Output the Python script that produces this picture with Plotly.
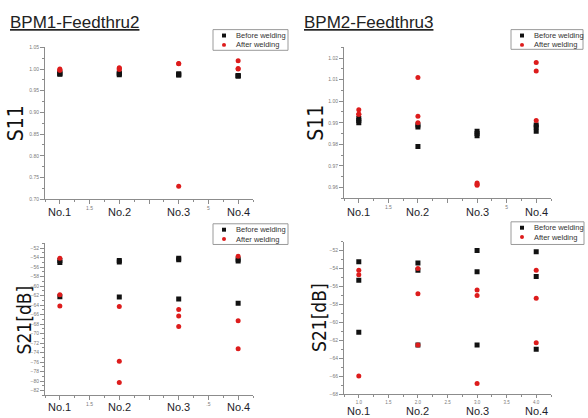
import plotly.graph_objects as go

W, H = 588, 418

samples = ["No.1", "No.2", "No.3", "No.4"]
series_names = ["Before welding", "After welding"]

# BPM1-Feedthru2, S11 (three readings per sample)
bpm1_s11_before = [[0.991, 0.989, 0.988], [0.991, 0.989, 0.987], [0.989, 0.987, 0.986], [0.985, 0.984, 0.984]]
bpm1_s11_after = [[1.000, 0.998, 0.997], [1.003, 1.001, 0.999], [1.013, 1.012, 0.730], [1.019, 1.001, 1.000]]
# BPM2-Feedthru3, S11
bpm2_s11_before = [[0.992, 0.991, 0.990], [0.989, 0.988, 0.979], [0.986, 0.985, 0.984], [0.989, 0.988, 0.986]]
bpm2_s11_after = [[0.996, 0.994, 0.994], [1.011, 0.993, 0.990], [0.962, 0.961, 0.9615], [1.018, 1.014, 0.991]]
# BPM1-Feedthru2, S21 [dB]
bpm1_s21_before = [[-54.6, -55.0, -62.2], [-54.6, -54.9, -62.3], [-54.1, -54.4, -62.7], [-54.3, -54.7, -63.6]]
bpm1_s21_after = [[-54.1, -61.8, -64.2], [-64.3, -75.8, -80.3], [-64.9, -66.3, -68.5], [-53.7, -67.3, -73.2]]
# BPM2-Feedthru3, S21 [dB]
bpm2_s21_before = [[-53.25, -55.3, -61.1], [-53.4, -54.2, -62.5], [-52.0, -54.35, -62.5], [-52.15, -54.9, -63.0]]
bpm2_s21_after = [[-54.2, -54.7, -65.95], [-54.0, -56.8, -62.5], [-56.4, -57.0, -66.8], [-54.2, -57.3, -62.25]]

half_labels_a = ["", "1.5", "", "", "", "5", ""]
half_labels_b = ["", "1.5", "", "", "", ".5", ""]
half_labels_c = ["1.0", "1.5", "2.0", "2.5", "3.0", "3.5", "4.0"]
tick_positions = [1, 1.5, 2, 2.5, 3, 3.5, 4]


def X(px):
    return px / W


def Y(px):
    return 1 - px / H


BLACK = "#111111"
RED = "#dd1c1c"
GREY = "#8c8c8c"
LBL = "#7a7a7a"

panels = [
    dict(before=bpm1_s11_before, after=bpm1_s11_after, dom_x=(45, 253), dom_y=(45, 199),
         yr=[0.70, 1.05], dt=0.05, fmt=".2f", title="S11", tsize=21, tx=16, halves=half_labels_a,
         noy=212, leg=(213, 27, 288, 48)),
    dict(before=bpm2_s11_before, after=bpm2_s11_after, dom_x=(344, 551), dom_y=(45, 198),
         yr=[0.955, 1.025], dt=0.01, fmt=".2f", title="S11", tsize=21, tx=316, halves=half_labels_a,
         noy=212, leg=(511, 27, 583, 47)),
    dict(before=bpm1_s21_before, after=bpm1_s21_after, dom_x=(45, 253), dom_y=(244, 398),
         yr=[-83, -51], dt=2, fmt="d", title="S21[dB]", tsize=19, tx=24, halves=half_labels_b,
         noy=410, leg=(213, 224, 288, 245)),
    dict(before=bpm2_s21_before, after=bpm2_s21_after, dom_x=(344, 551), dom_y=(242, 397),
         yr=[-68, -51], dt=2, fmt="d", title="S21[dB]", tsize=19, tx=319, halves=half_labels_c,
         noy=413.5, leg=(511, 222, 584, 245)),
]

fig = go.Figure()
annotations = []
shapes = []
layout_axes = {}

for i, p in enumerate(panels):
    n = "" if i == 0 else str(i + 1)
    xa, ya = "x" + n, "y" + n
    for vals, name, color, sym in [(p["before"], series_names[0], BLACK, "square"),
                                   (p["after"], series_names[1], RED, "circle")]:
        xs, ys = [], []
        for k, group in enumerate(vals):
            for v in group:
                xs.append(k + 1)
                ys.append(v)
        fig.add_trace(go.Scatter(x=xs, y=ys, mode="markers", name=name, showlegend=False,
                                 xaxis=xa, yaxis=ya,
                                 marker=dict(color=color, symbol=sym, size=5, line=dict(width=0))))
    small = i == 3
    layout_axes["xaxis" + n] = dict(
        domain=[X(p["dom_x"][0]), X(p["dom_x"][1])], anchor=ya, range=[0.75, 4.25],
        tickmode="array", tickvals=tick_positions, ticktext=p["halves"],
        ticks="outside", ticklen=3 if small else 4, tickcolor=GREY, tickwidth=1,
        ticklabelstandoff=0 if small else None,
        showline=True, linecolor=GREY, linewidth=1, showgrid=False, zeroline=False,
        tickfont=dict(size=4.5 if small else 5, color=LBL, family="Liberation Sans, Arial"),
        minor=dict(tickmode="linear", tick0=0, dtick=0.25, ticks="outside", ticklen=2, tickcolor=GREY),
    )
    layout_axes["yaxis" + n] = dict(
        domain=[Y(p["dom_y"][1]), Y(p["dom_y"][0])], anchor=xa, range=p["yr"],
        tickmode="linear", tick0=0, dtick=p["dt"], tickformat=p["fmt"],
        ticks="outside", ticklen=4, tickcolor=GREY, tickwidth=1,
        showline=True, linecolor=GREY, linewidth=1, showgrid=False, zeroline=False,
        tickfont=dict(size=5, color=LBL, family="Liberation Sans, Arial"),
        minor=dict(tickmode="linear", tick0=0, dtick=p["dt"] / 2, ticks="outside", ticklen=2, tickcolor=GREY),
    )
    # category labels under the axis
    for k, s in enumerate(samples):
        annotations.append(dict(x=k + 1, y=Y(p["noy"]), xref=xa, yref="paper", text=s,
                                showarrow=False, xanchor="center", yanchor="middle",
                                font=dict(size=11, color="#1e1e2a", family="Liberation Sans, Arial")))
    # y axis title
    cy = (p["dom_y"][0] + p["dom_y"][1]) / 2
    annotations.append(dict(x=X(p["tx"]), y=Y(cy), xref="paper", yref="paper", text=p["title"],
                            textangle=-90, showarrow=False, xanchor="center", yanchor="middle",
                            font=dict(size=p["tsize"], color="#111111",
                                      family="Liberation Sans Narrow, DejaVu Sans Condensed, Arial")))
    # legend box
    x0, y0, x1, y1 = p["leg"]
    shapes.append(dict(type="rect", xref="paper", yref="paper", x0=X(x0), x1=X(x1), y0=Y(y1), y1=Y(y0),
                       line=dict(color="#9a9a9a", width=1), fillcolor="white", layer="above"))
    rows = [(series_names[0], BLACK, "rect"), (series_names[1], RED, "circle")]
    for r, (label, color, kind) in enumerate(rows):
        ry = y0 + 6 + r * 9.5
        mx = x0 + 11
        shapes.append(dict(type=kind, xref="paper", yref="paper", x0=X(mx - 2), x1=X(mx + 2),
                           y0=Y(ry + 2), y1=Y(ry - 2), line=dict(width=0), fillcolor=color, layer="above"))
        annotations.append(dict(x=X(x0 + 21), y=Y(ry), xref="paper", yref="paper", text=label,
                                showarrow=False, xanchor="left", yanchor="middle",
                                font=dict(size=7.5, color="#333333", family="Liberation Sans, Arial")))

# panel titles
for txt, lx in [("BPM1-Feedthru2", 8), ("BPM2-Feedthru3", 302)]:
    annotations.append(dict(x=X(lx), y=Y(20), xref="paper", yref="paper", text="<u>" + txt + "</u>",
                            showarrow=False, xanchor="left", yanchor="middle",
                            font=dict(size=17, color="#222222", family="Liberation Sans, Arial")))

fig.update_layout(
    width=W, height=H, margin=dict(l=0, r=0, t=0, b=0),
    paper_bgcolor="white", plot_bgcolor="white", showlegend=False,
    annotations=annotations, shapes=shapes, **layout_axes,
)

fig.write_html("out.html")
